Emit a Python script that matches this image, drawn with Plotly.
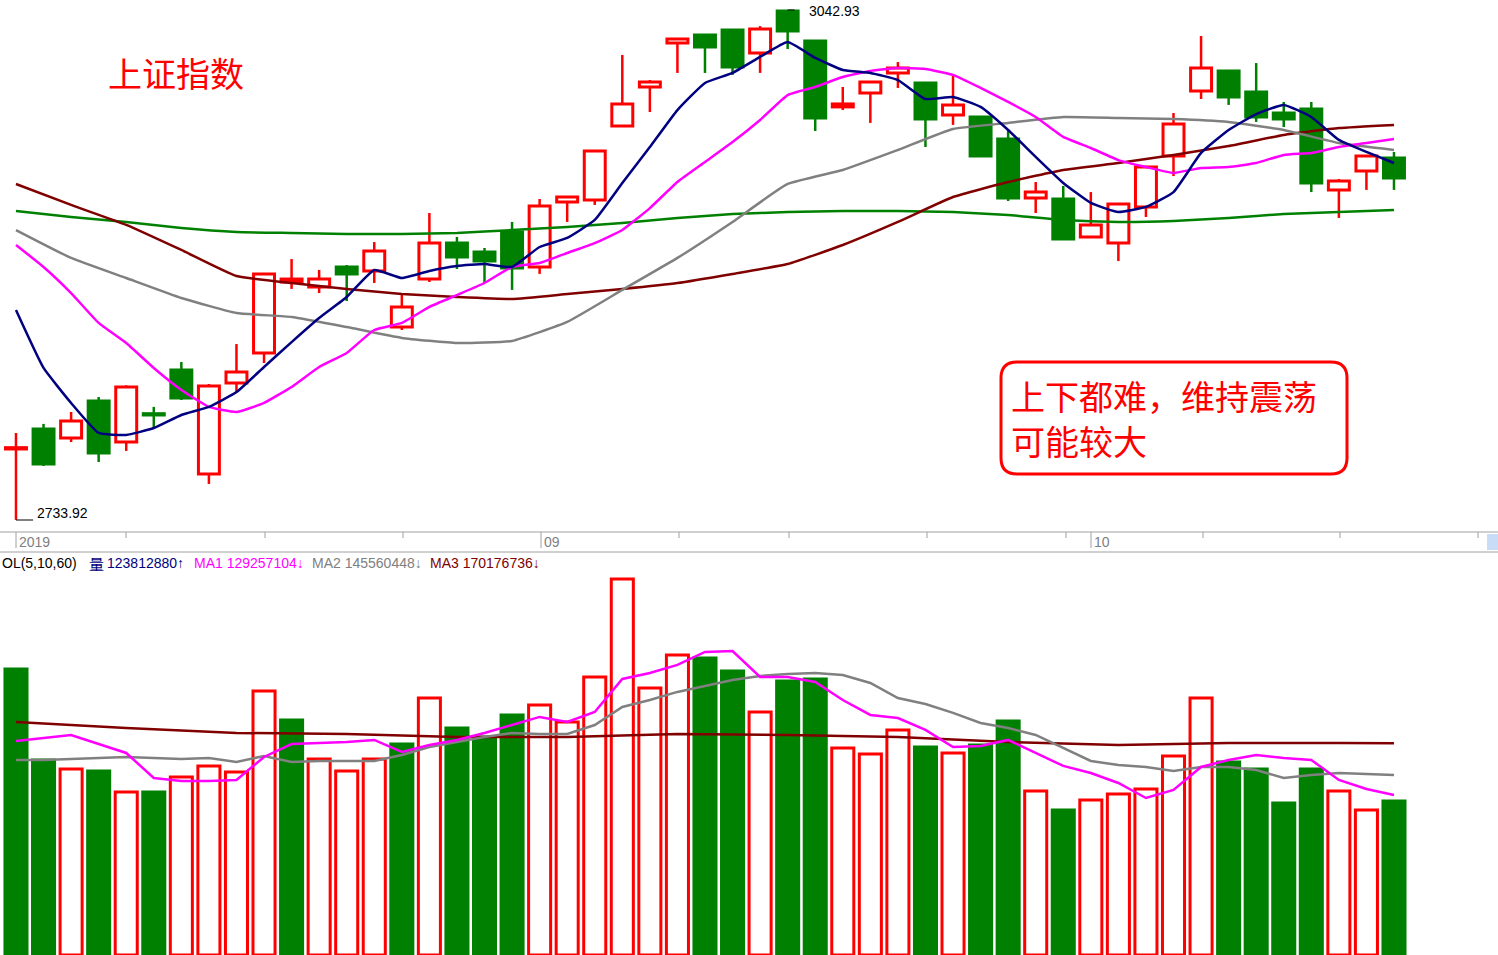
import plotly.graph_objects as go

W, H = 1498, 955

# ---- price candles (index 0..50) ----
opens = [2776.9,2789.0,2783.6,2806.0,2781.1,2798.1,2824.8,2761.8,2816.9,2835.1,
         2878.1,2875.1,2887.2,2884.8,2850.8,2879.9,2901.7,2896.3,2908.4,2887.2,
         2926.6,2927.8,2972.6,2996.3,3022.9,3027.8,3030.8,3016.9,3042.3,3024.2,
         2984.2,2992.6,3004.8,2998.7,2979.3,2978.1,2964.8,2929.0,2928.4,2905.4,
         2901.7,2923.6,2954.5,2993.9,3006.0,2993.2,2980.5,2982.9,2933.9,2945.4,2953.3]
closes = [2777.5,2767.8,2793.9,2774.5,2814.5,2797.5,2807.8,2815.1,2823.6,2883.0,
          2879.9,2879.9,2883.0,2896.9,2863.0,2901.7,2893.3,2890.8,2886.6,2924.2,
          2929.6,2957.5,2986.0,2999.3,3025.4,3020.5,3008.4,3031.4,3030.2,2977.5,
          2986.0,2999.3,3007.8,2976.9,2985.4,2954.5,2929.0,2932.6,2904.2,2912.7,
          2925.4,2947.8,2973.9,3007.8,2990.2,2978.1,2976.9,2938.1,2939.3,2954.5,2941.1]
highs = [2786.6,2792.1,2799.3,2808.4,2815.5,2802.4,2829.6,2816.3,2840.5,2883.6,
         2892.0,2885.4,2888.4,2902.3,2870.2,2919.9,2905.4,2898.7,2914.5,2928.4,
         2929.9,2958.1,3015.7,3000.5,3026.0,3028.0,3031.4,3033.2,3042.93,3024.5,
         2996.3,2999.5,3011.4,2999.0,3002.9,2978.3,2970.2,2938.7,2936.3,2932.6,
         2925.6,2948.0,2980.5,3027.2,3006.2,3010.8,2987.2,2987.2,2940.5,2954.7,2956.9]
lows = [2733.92,2766.6,2781.1,2769.0,2775.7,2789.6,2806.6,2755.7,2811.4,2829.0,
        2873.9,2871.4,2866.6,2877.5,2849.0,2878.1,2886.0,2877.5,2873.3,2883.0,
        2914.5,2924.8,2972.0,2981.1,3004.8,3004.8,3003.6,3004.8,3019.3,2969.6,
        2982.3,2974.5,2995.7,2959.9,2973.3,2954.2,2927.2,2919.9,2904.0,2904.8,
        2890.8,2917.5,2942.3,2989.0,2985.4,2975.1,2972.0,2932.6,2916.9,2933.9,2933.9]

# ---- price moving averages ----
ma5 = [2861.1,2826.0,2804.8,2786.6,2785.4,2789.6,2797.5,2802.4,2811.4,2826.6,
       2841.7,2856.3,2869.0,2885.4,2880.5,2884.8,2887.8,2889.0,2887.2,2899.3,
       2904.8,2915.7,2938.1,2959.9,2982.3,2998.7,3004.8,3014.5,3023.5,3013.9,
       3006.6,3004.8,3000.5,2989.0,2990.2,2984.2,2970.2,2953.9,2938.1,2926.0,
       2920.5,2923.6,2932.6,2956.3,2970.2,2979.9,2985.4,2978.1,2964.2,2956.9,2950.2]
ma10 = [2900.5,2887.2,2871.4,2853.3,2841.1,2826.0,2812.7,2802.4,2799.3,2804.8,
        2814.5,2826.6,2835.1,2849.0,2853.3,2863.0,2870.2,2877.5,2887.2,2889.6,
        2895.7,2901.7,2909.6,2922.9,2938.7,2950.8,2962.9,2976.3,2991.4,2996.3,
        3002.3,3006.0,3007.8,3007.2,3003.6,2995.7,2987.2,2978.1,2966.0,2959.3,
        2952.0,2947.8,2944.2,2947.2,2947.8,2950.2,2955.1,2956.3,2959.9,2962.3,2964.8]
slow_idx = list(range(0, 51, 2))
ma20 = [2909.6,2892.7,2880.5,2868.4,2859.3,2856.9,2850.8,2844.2,2841.1,2842.4,
        2853.9,2873.3,2892.7,2914.5,2937.5,2946.0,2958.1,2970.8,2974.5,2978.1,
        2977.5,2976.9,2975.1,2970.2,2962.3,2958.1]
ma60 = [2937.5,2924.8,2912.7,2897.5,2881.7,2877.5,2873.9,2870.8,2869.0,2867.8,
        2870.8,2873.9,2877.5,2883.0,2889.0,2900.5,2914.5,2929.6,2938.7,2946.0,
        2950.2,2955.1,2960.5,2967.2,2971.4,2973.3]
ma120 = [2921.1,2917.5,2914.5,2910.8,2908.4,2907.8,2907.2,2907.2,2907.8,2909.6,
         2911.4,2913.9,2916.9,2919.3,2920.5,2921.1,2921.1,2920.5,2918.7,2915.7,
         2914.5,2915.1,2916.9,2919.3,2920.5,2921.7]

# ---- volume (millions of shares) ----
volume = [230.0,156.8,149.5,147.9,131.1,131.1,143.1,152.0,147.1,212.3,
          188.9,157.6,147.9,157.6,169.6,206.6,182.5,175.3,193.0,201.0,
          187.3,223.5,302.3,214.7,241.2,238.8,228.3,195.4,220.3,221.9,
          166.4,161.6,180.9,167.2,162.4,168.8,188.1,131.9,116.6,124.6,
          129.4,133.5,160.0,206.6,155.2,149.5,122.2,149.5,131.9,116.6,123.8]
vol_up = "GGRGRGRRRRGRRRGRGGGRRRRRRGGRGGRRRGRGGRGRRRRRGGGGRRG"
vma5 = [172.1,174.5,176.9,169.6,162.4,142.3,139.9,139.9,140.7,159.2,
        169.6,170.4,171.3,172.9,163.2,168.8,172.9,178.5,184.9,191.4,
        187.3,195.4,221.9,226.7,233.2,243.6,244.4,223.5,223.5,219.5,
        205.0,193.0,190.5,180.9,167.2,168.0,172.9,162.4,152.0,146.3,
        138.3,126.2,132.7,151.2,156.8,160.8,158.4,156.8,140.7,133.5,128.6]
vma10 = [156.8,156.8,157.6,158.4,159.2,158.4,157.6,158.4,155.2,160.0,
         155.2,156.0,156.0,156.0,160.8,167.2,171.3,175.3,178.5,177.7,
         177.7,184.9,199.4,205.0,211.5,216.3,221.1,224.3,225.9,226.7,
         225.1,218.7,206.6,201.8,194.6,186.5,182.5,176.9,166.4,156.0,
         152.8,151.2,147.9,151.2,151.2,148.7,142.3,144.7,146.3,145.5,144.7]
vma60_idx = [0,4,8,12,16,20,24,28,32,36,40,44,48,50]
vma60 = [187.3,182.5,178.5,177.7,175.3,175.3,177.7,176.9,175.3,171.3,168.8,170.4,170.4,170.2]

RED, GREEN, NAVY, MAG, GRAY, DRED = "#FF0000", "#008000", "#000080", "#FF00FF", "#808080", "#800000"
FONT = "Liberation Sans, Arial, sans-serif"
CJK = "Noto Sans CJK SC"

n = len(opens)
idx = list(range(n))
fig = go.Figure()

# wicks
for up in (True, False):
    xs, ys = [], []
    for i in idx:
        if (closes[i] >= opens[i]) != up:
            continue
        top, bot = max(opens[i], closes[i]), min(opens[i], closes[i])
        xs += [i, i, None, i, i, None]
        ys += [highs[i], top, None, bot, lows[i], None]
    fig.add_trace(go.Scatter(x=xs, y=ys, mode="lines", line=dict(color=RED if up else GREEN, width=2.5),
                             hoverinfo="skip", showlegend=False, xaxis="x", yaxis="y"))
# bodies
base = [min(o, c) for o, c in zip(opens, closes)]
hgt = [max(abs(c - o), 0.8) for o, c in zip(opens, closes)]
ups = [c >= o for o, c in zip(opens, closes)]
fig.add_trace(go.Bar(x=idx, y=hgt, base=base, width=0.76,
                     marker=dict(color=["white" if u else GREEN for u in ups],
                                 line=dict(color=[RED if u else GREEN for u in ups], width=3)),
                     showlegend=False, xaxis="x", yaxis="y"))
for xs_, ys_, col in [(slow_idx, ma120, GREEN), (slow_idx, ma60, DRED), (slow_idx, ma20, GRAY),
                      (idx, ma10, MAG), (idx, ma5, NAVY)]:
    fig.add_trace(go.Scatter(x=xs_, y=ys_, mode="lines", line=dict(color=col, width=2.5, shape="spline", smoothing=0.4),
                             showlegend=False, xaxis="x", yaxis="y"))

# volume
vup = [ch == "R" for ch in vol_up]
fig.add_trace(go.Bar(x=idx, y=volume, width=0.8,
                     marker=dict(color=["white" if u else GREEN for u in vup],
                                 line=dict(color=[RED if u else GREEN for u in vup], width=3)),
                     showlegend=False, xaxis="x2", yaxis="y2"))
for xs_, ys_, col in [(vma60_idx, vma60, DRED), (idx, vma10, GRAY), (idx, vma5, MAG)]:
    fig.add_trace(go.Scatter(x=xs_, y=ys_, mode="lines", line=dict(color=col, width=2.5),
                             showlegend=False, xaxis="x2", yaxis="y2"))

xr = [-0.58, W / 27.56 - 0.58]
def px(x): return x / W
def py(y): return 1 - y / H

shapes = [
    dict(type="line", xref="paper", yref="paper", x0=0, x1=1, y0=py(532), y1=py(532), line=dict(color="#A0A0A0", width=1)),
    dict(type="line", xref="paper", yref="paper", x0=0, x1=1, y0=py(552), y1=py(552), line=dict(color="#A0A0A0", width=1)),
    dict(type="rect", xref="paper", yref="paper", x0=px(1487), x1=px(1498), y0=py(550), y1=py(534),
         fillcolor="#C8DCF8", line=dict(width=0)),
]
for tx in [126, 265, 403, 679, 789, 927, 1066, 1203, 1340, 1478]:
    shapes.append(dict(type="line", xref="paper", yref="paper", x0=px(tx), x1=px(tx), y0=py(532), y1=py(538),
                       line=dict(color="#A0A0A0", width=1)))
for tx in [16, 541, 1091]:
    shapes.append(dict(type="line", xref="paper", yref="paper", x0=px(tx), x1=px(tx), y0=py(532), y1=py(548),
                       line=dict(color="#A0A0A0", width=1)))
shapes.append(dict(type="line", xref="x", yref="paper", x0=28, x1=28.25, y0=py(10), y1=py(10), line=dict(color="black", width=1)))
shapes.append(dict(type="line", xref="x", yref="paper", x0=0, x1=0.62, y0=py(520), y1=py(520), line=dict(color="black", width=1)))
# rounded box
x0, x1, y0, y1, r = 1001, 1347, 362, 474, 16
rx, ry = r / W, r / H
X0, X1, Y0, Y1 = px(x0), px(x1), py(y1), py(y0)
path = (f"M {X0+rx},{Y1} L {X1-rx},{Y1} Q {X1},{Y1} {X1},{Y1-ry} L {X1},{Y0+ry} Q {X1},{Y0} {X1-rx},{Y0} "
        f"L {X0+rx},{Y0} Q {X0},{Y0} {X0},{Y0+ry} L {X0},{Y1-ry} Q {X0},{Y1} {X0+rx},{Y1} Z")
shapes.append(dict(type="path", xref="paper", yref="paper", path=path, line=dict(color=RED, width=3)))

ann = []
def T(x, y, text, color, size, font=FONT, xa="left"):
    ann.append(dict(x=px(x), y=py(y), xref="paper", yref="paper", text=text, showarrow=False,
                    xanchor=xa, yanchor="middle", font=dict(color=color, size=size, family=font)))
T(106, 73, "上证指数", RED, 34, CJK)
T(1009, 395, "上下都难，维持震荡", RED, 34, CJK)
T(1009, 440, "可能较大", RED, 34, CJK)
T(807, 11, "3042.93", "black", 14)
T(35, 513, "2733.92", "black", 14)
T(17, 542, "2019", "#808080", 14)
T(542, 542, "09", "#808080", 14)
T(1092, 542, "10", "#808080", 14)
T(0, 563, "OL(5,10,60)", "black", 14)
T(87, 563, "量", NAVY, 15, CJK)
T(105, 563, "123812880↑", NAVY, 14)
T(192, 563, "MA1 129257104↓", MAG, 14)
T(310, 563, "MA2 145560448↓", GRAY, 14)
T(428, 563, "MA3 170176736↓", DRED, 14)

fig.update_layout(
    width=W, height=H, margin=dict(l=0, r=0, t=0, b=0), paper_bgcolor="white", plot_bgcolor="white",
    barmode="overlay", showlegend=False, shapes=shapes, annotations=ann,
    xaxis=dict(domain=[0, 1], range=xr, visible=False, fixedrange=True),
    yaxis=dict(domain=[py(530), 1], range=[2727.8, 3049.0], visible=False),
    xaxis2=dict(domain=[0, 1], range=xr, visible=False, anchor="y2"),
    yaxis2=dict(domain=[0, py(570)], range=[0, 309.5], visible=False),
)
fig.write_html("out.html", config={"displayModeBar": False},
               post_script="document.body.style.margin='0';document.body.style.overflow='hidden';")
